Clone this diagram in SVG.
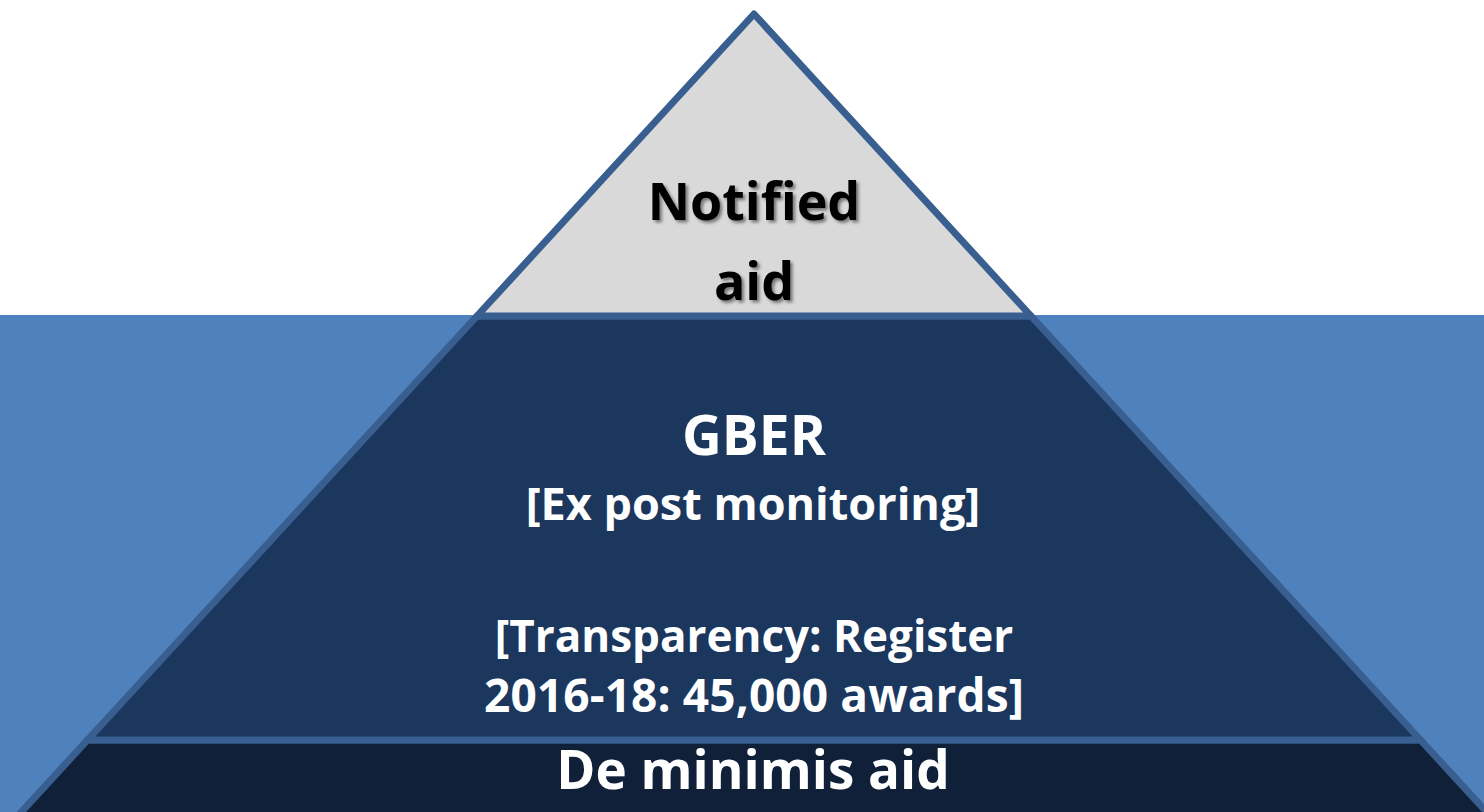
<svg xmlns="http://www.w3.org/2000/svg" width="1484" height="812" viewBox="0 0 1484 812">
  <style>
    .layer { stroke: #395f90; stroke-width: 7; stroke-linejoin: round; }
    .lbl { font-family: "Open Sans", "Liberation Sans", sans-serif; font-weight: 700; text-anchor: middle; }
    .white { fill: #ffffff; }
  </style>
  <defs>
    <filter id="shadow" x="-20%" y="-20%" width="140%" height="140%">
      <feDropShadow dx="2.5" dy="2.5" stdDeviation="1.5" flood-color="#000000" flood-opacity="0.45"/>
    </filter>
  </defs>
  <rect x="0" y="0" width="1484" height="812" fill="#ffffff"/>
  <rect x="0" y="315" width="1484" height="497" fill="#4f81bd"/>

  <g id="de-minimis">
    <polygon class="layer" fill="#112039" points="87.5,740 1420.5,740 1494,820 14,820"/>
    <text class="lbl white" x="753" y="789" font-size="53">De minimis aid</text>
  </g>

  <g id="gber">
    <polygon class="layer" fill="#1b375e" points="477,316 1031,316 1420.5,740 87.5,740"/>
    <text class="lbl white" x="754" y="455" font-size="55">GBER</text>
    <text class="lbl white" x="753" y="520" font-size="45">[Ex post monitoring]</text>
    <text class="lbl white" x="754" y="652" font-size="44">[Transparency: Register</text>
    <text class="lbl white" x="754" y="712" font-size="46" textLength="540" lengthAdjust="spacing">2016-18: 45,000 awards]</text>
  </g>

  <g id="notified">
    <polygon class="layer" fill="#d9d9d9" points="754,14 1031,316 477,316"/>
    <g filter="url(#shadow)">
      <text class="lbl" x="754" y="220" font-size="52" fill="#000000">Notified</text>
      <text class="lbl" x="754" y="300" font-size="52" fill="#000000">aid</text>
    </g>
  </g>
</svg>
